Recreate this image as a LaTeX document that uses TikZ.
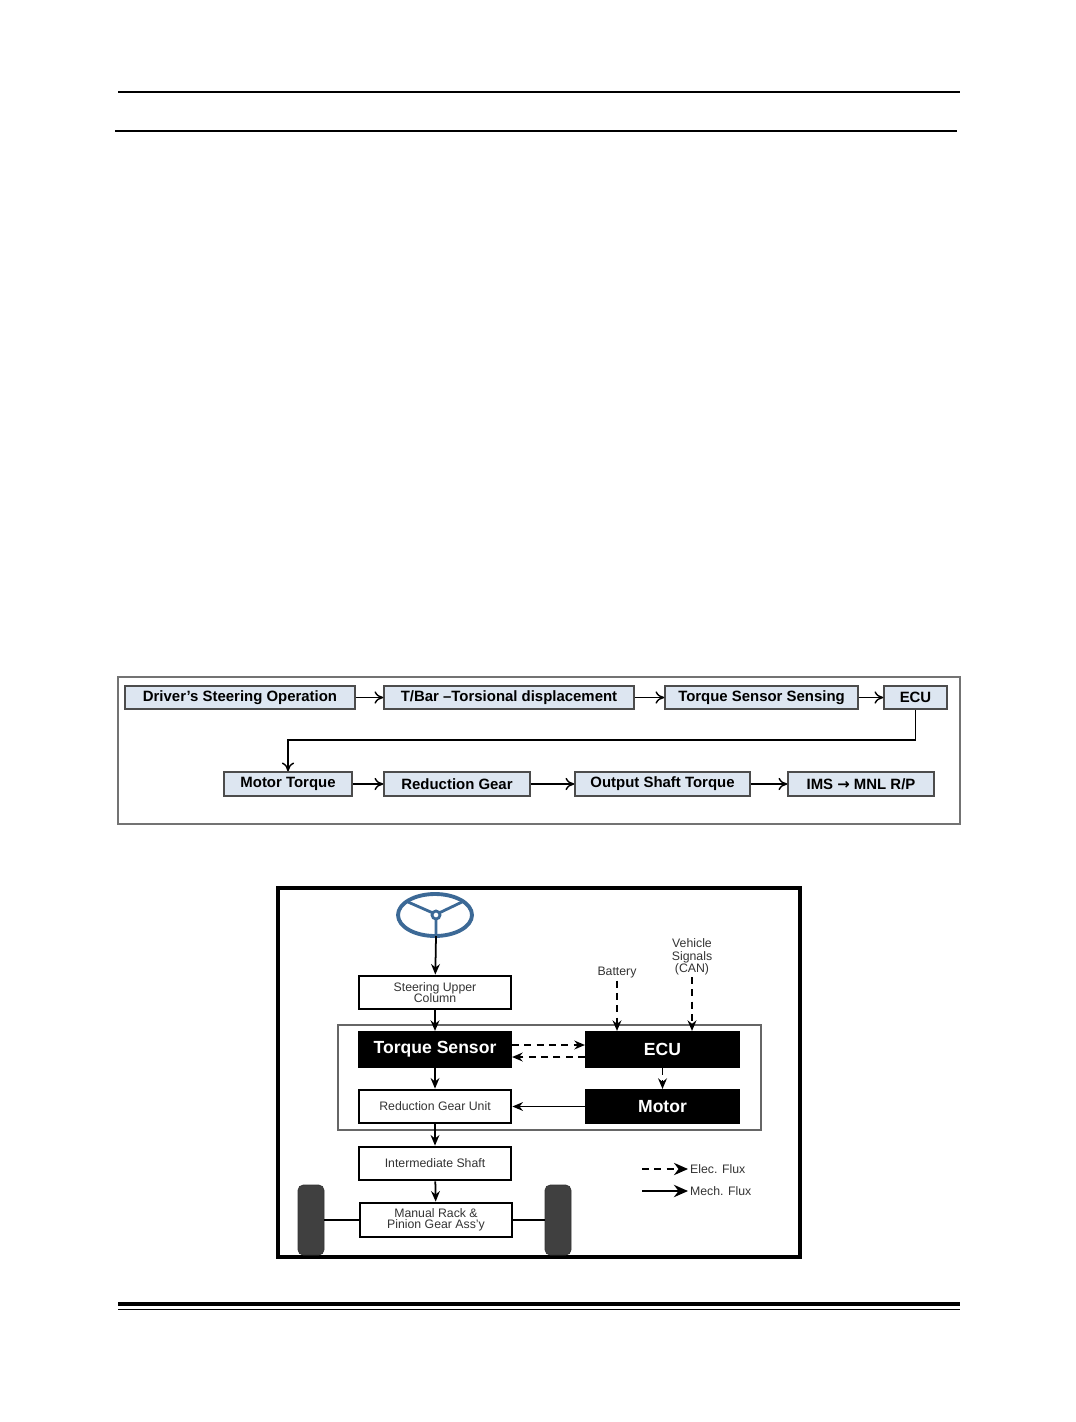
\documentclass[tikz,border=0pt]{standalone}
\usepackage{fontspec}
\setmainfont{Liberation Sans}
\usetikzlibrary{arrows.meta,shapes.geometric}
\definecolor{boxblue}{RGB}{221,230,241}
\definecolor{wheelblue}{RGB}{60,105,150}
\begin{document}
\begin{tikzpicture}[x=0.02cm,y=-0.02cm,
  flow/.style={draw=black!70,fill=boxblue,line width=0.8pt,inner sep=0pt,font=\fontsize{8.5}{9}\selectfont\bfseries},
  wbox/.style={draw,line width=1.6pt,inner sep=0pt,text=black!80,font=\fontsize{7}{7.5}\selectfont,align=center},
  bbox/.style={draw,fill=black,line width=1.2pt,inner sep=0pt,text=white,font=\fontsize{10}{11}\selectfont\bfseries},
  lbl/.style={text=black!80,font=\fontsize{7}{8}\selectfont,align=center,inner sep=1pt},
  mech/.style={-{Stealth[length=6pt,width=5pt]},line width=1pt},
  elec/.style={-{Stealth[length=6pt,width=5pt]},line width=1pt,dash pattern=on 4pt off 3pt},
  fl/.style={-{To[length=5pt,width=7pt]},line width=0.8pt}]
\useasboundingbox (0,0) rectangle (1075,1422);
% page rules
\draw[line width=0.6pt] (118,92)--(960,92);
\draw[line width=0.6pt] (115,131)--(957,131);
\draw[line width=2.4pt] (118,1304)--(960,1304);
\draw[line width=0.8pt] (118,1309.5)--(960,1309.5);
% flow chart
\draw[black!55,line width=0.8pt] (118,677) rectangle (960,824);
\node[flow,minimum width=230*0.02cm,minimum height=23*0.02cm] (drv) at (240,697.5) {Driver’s Steering Operation};
\node[flow,minimum width=250*0.02cm,minimum height=23*0.02cm] (tbar) at (509,697.5) {T/Bar –Torsional displacement};
\node[flow,minimum width=193*0.02cm,minimum height=23*0.02cm] (tss) at (761.5,697.5) {Torque Sensor Sensing};
\node[flow,minimum width=63*0.02cm,minimum height=23*0.02cm] (ecu1) at (915.5,697.5) {ECU};
\node[flow,minimum width=128*0.02cm,minimum height=24*0.02cm] (mt) at (288,784) {Motor Torque};
\node[flow,minimum width=146*0.02cm,minimum height=24*0.02cm] (rg) at (457,784) {Reduction Gear};
\node[flow,minimum width=175*0.02cm,minimum height=24*0.02cm] (ost) at (662.5,784) {Output Shaft Torque};
\node[flow,minimum width=146*0.02cm,minimum height=24*0.02cm] (ims) at (861,784) {IMS {\fontspec{DejaVu Sans}\bfseries→} MNL R/P};
\draw[fl] (drv)--(tbar);
\draw[fl] (tbar)--(tss);
\draw[fl] (tss)--(ecu1);
\draw[fl] (ecu1.south)--(ecu1.south|-0,740)--(mt.north|-0,740)--(mt.north);
\draw[fl] (mt)--(rg);
\draw[fl] (rg)--(ost);
\draw[fl] (ost)--(ims);
% system diagram
\draw[line width=2.2pt] (278,888) rectangle (800,1257);
\draw[black!60,line width=0.6pt] (338,1025) rectangle (761,1130);
\draw[wheelblue,line width=2.2pt] (435,915) ellipse (37 and 21);
\draw[wheelblue,line width=1.6pt] (436,915) circle (4);
\draw[wheelblue,line width=1.6pt] (433,913)--(408,902) (439,913)--(462,902) (436,919)--(436,936);
\coordinate (whl) at (436,936);
\node[wbox,minimum width=152*0.02cm,minimum height=33*0.02cm] (suc) at (435,992.5) {Steering Upper\\[-1pt]Column};
\node[bbox,minimum width=152*0.02cm,minimum height=35*0.02cm] (ts) at (435,1049.5) {Torque Sensor};
\node[bbox,minimum width=153*0.02cm,minimum height=35*0.02cm] (ecu) at (662.5,1049.5) {ECU};
\node[wbox,minimum width=152*0.02cm,minimum height=33*0.02cm] (rgu) at (435,1106.5) {Reduction Gear Unit};
\node[bbox,minimum width=153*0.02cm,minimum height=33*0.02cm] (mot) at (662.5,1106.5) {Motor};
\node[wbox,minimum width=152*0.02cm,minimum height=33*0.02cm] (ims2) at (435,1163.5) {Intermediate Shaft};
\node[wbox,minimum width=152*0.02cm,minimum height=34*0.02cm] (rp) at (436,1220) {Manual Rack \&\\[-1pt]Pinion Gear Ass’y};
\node[draw=black!80,fill=black!75,rounded corners=3pt,minimum width=26*0.02cm,minimum height=70*0.02cm,inner sep=0pt] (tl) at (311,1220) {};
\node[draw=black!80,fill=black!75,rounded corners=3pt,minimum width=26*0.02cm,minimum height=70*0.02cm,inner sep=0pt] (tr) at (558,1220) {};
\node[lbl] (bat) at (617,973) {Battery};
\node[lbl] (can) at (692,957) {Vehicle\\[-1pt]Signals\\[-1pt](CAN)};
\draw[mech] (whl)--(suc);
\draw[mech] (suc)--(ts);
\draw[mech] (ts)--(rgu);
\draw[mech] (rgu)--(ims2);
\draw[mech] (ims2)--(rp);
\draw[line width=1.6pt] (tl)--(rp) (rp)--(tr);
\draw[mech] (mot)--(rgu);
\draw[elec] (ts.east|-0,1045)--(ecu.west|-0,1045);
\draw[elec] (ecu.west|-0,1057)--(ts.east|-0,1057);
\draw[elec] (ecu)--(mot);
\draw[elec] (bat)--(bat|-ecu.north);
\draw[elec] (can)--(can|-ecu.north);
% legend
\coordinate (le1) at (642,1169);
\coordinate (le2) at (642,1191);
\node[lbl,anchor=west] (lel) at (688,1169) {Elec. Flux};
\node[lbl,anchor=west] (lml) at (688,1191) {Mech. Flux};
\draw[elec,-{Stealth[length=8pt,width=7pt]}] (le1)--(lel);
\draw[mech,line width=1.6pt,-{Stealth[length=8pt,width=7pt]}] (le2)--(lml);
\end{tikzpicture}
\end{document}
